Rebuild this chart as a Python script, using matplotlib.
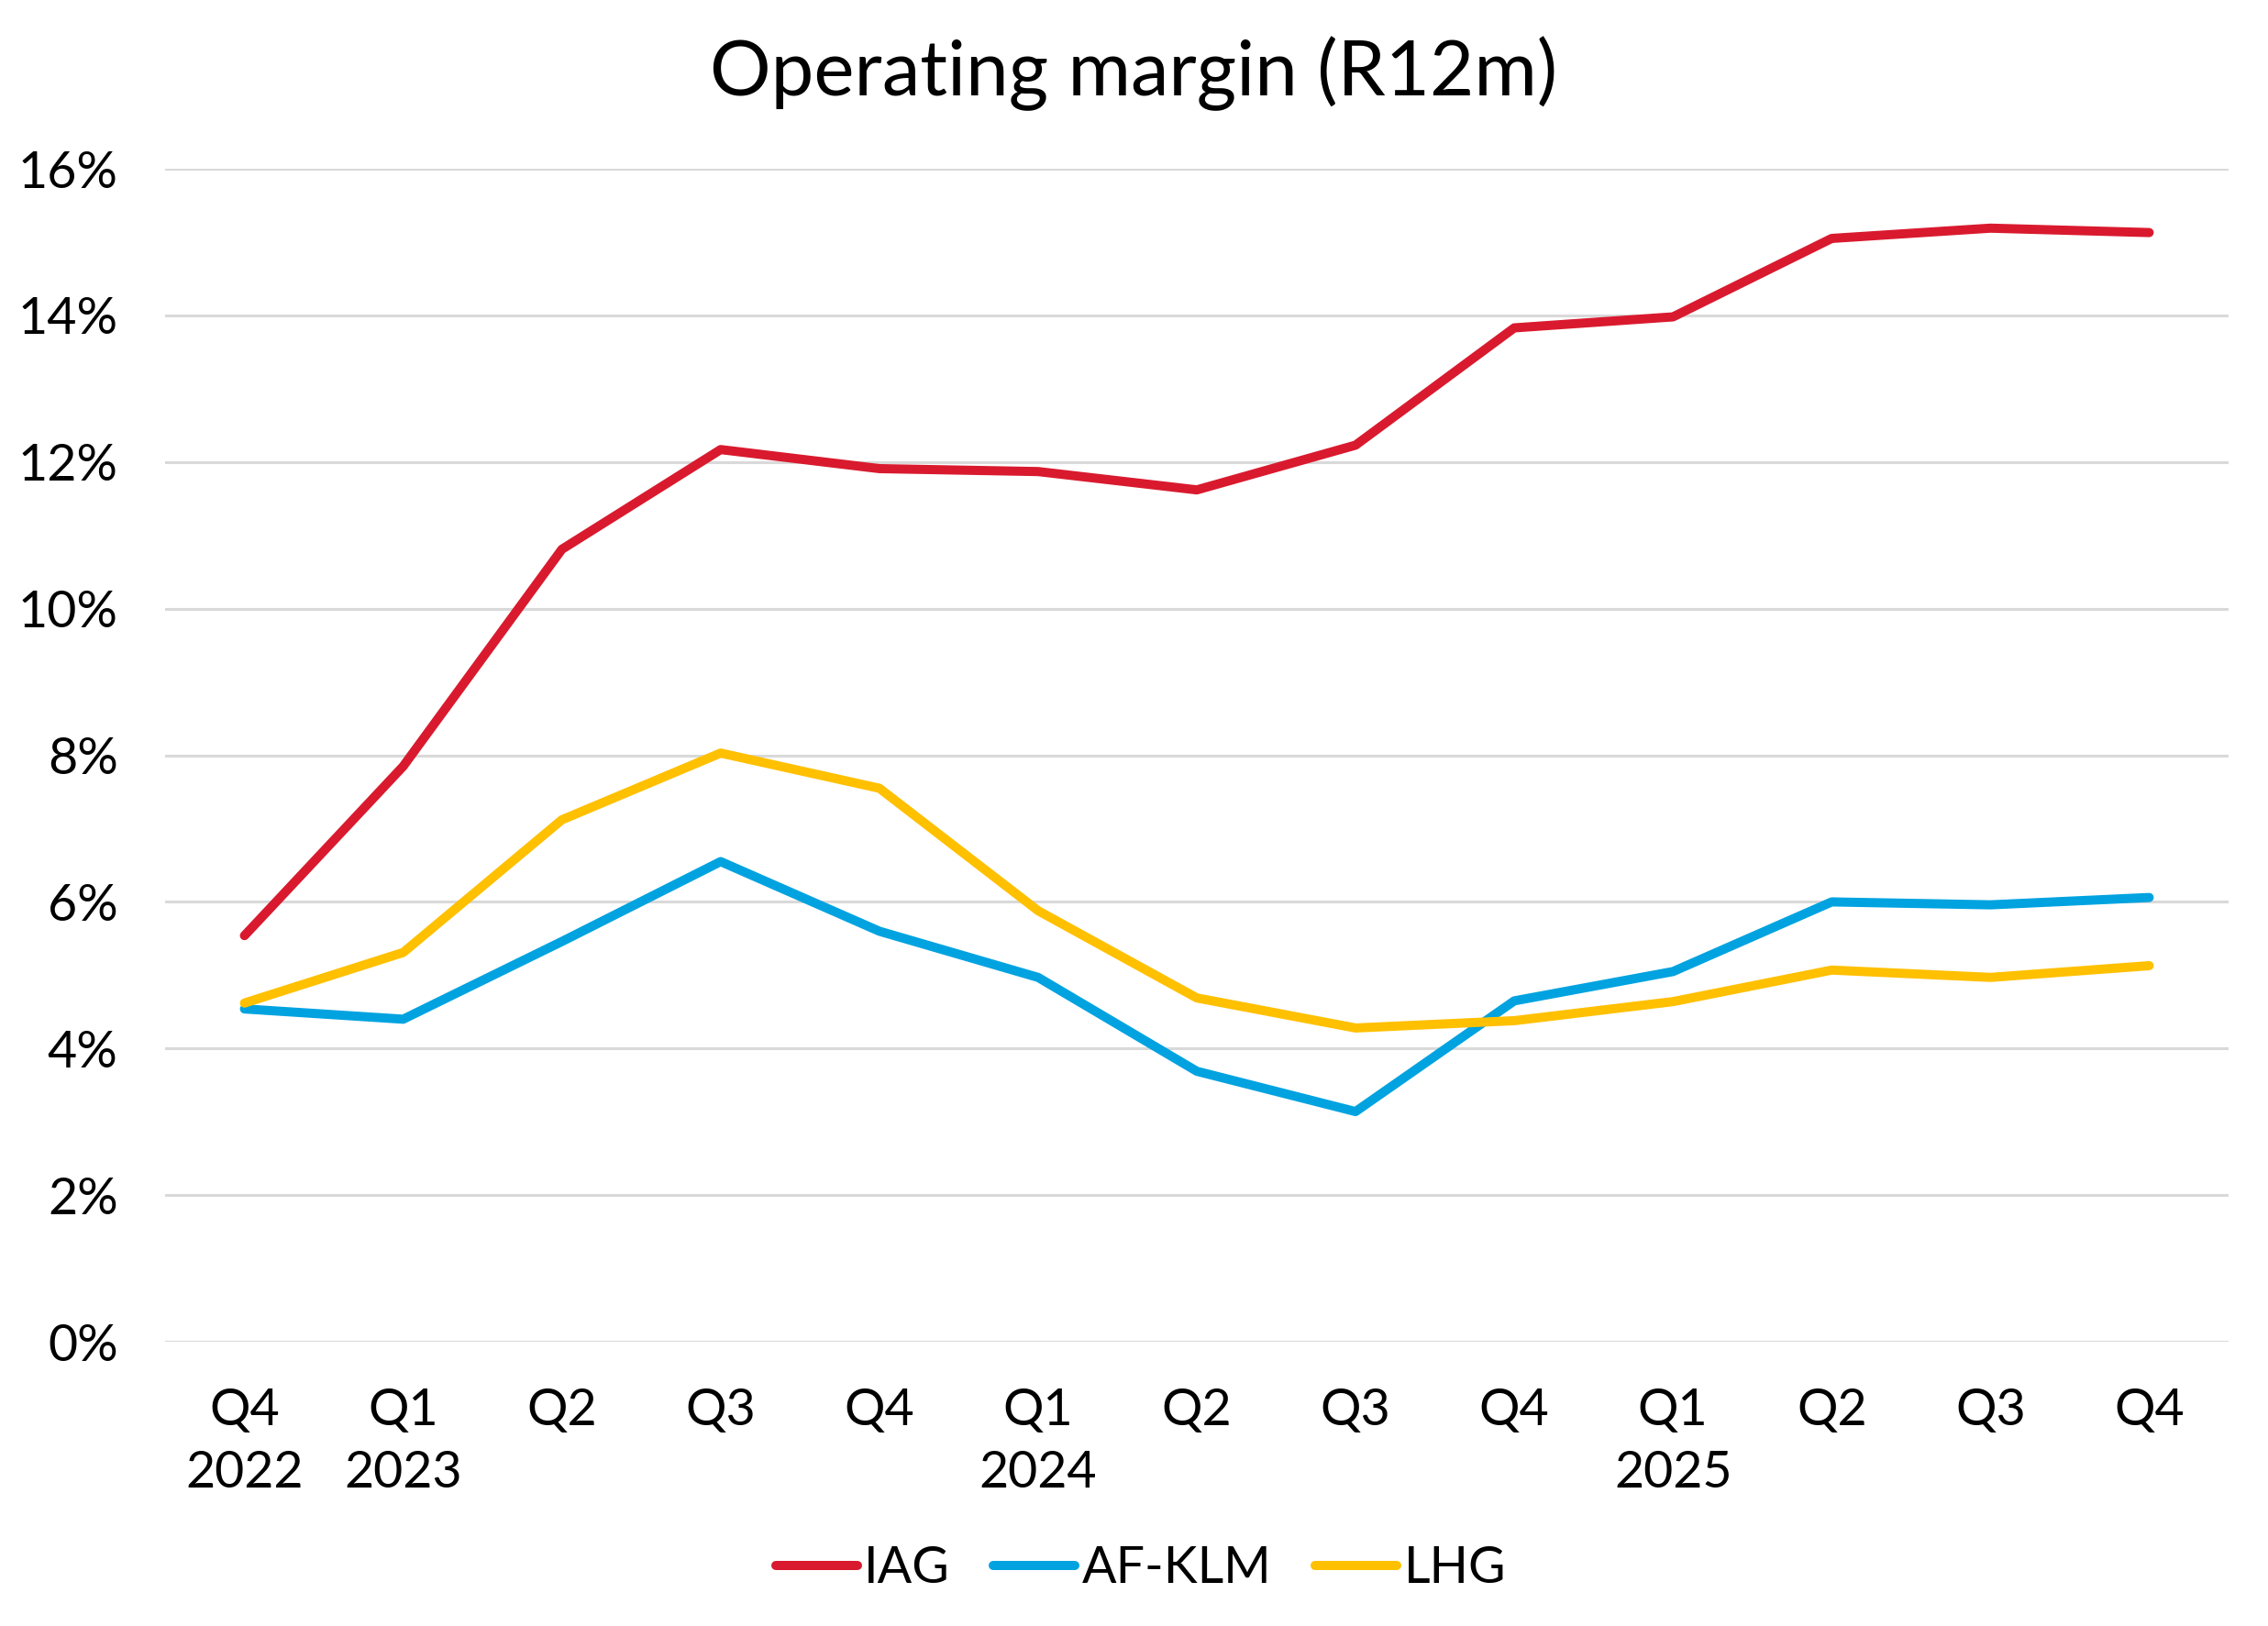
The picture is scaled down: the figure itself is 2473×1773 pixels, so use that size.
import matplotlib
matplotlib.use("Agg")
import matplotlib.pyplot as plt
from matplotlib.ticker import FuncFormatter

plt.rcParams['font.family'] = ['Lato', 'DejaVu Sans']

quarters = ['Q4\n2022', 'Q1\n2023', 'Q2', 'Q3', 'Q4', 'Q1\n2024', 'Q2', 'Q3',
            'Q4', 'Q1\n2025', 'Q2', 'Q3', 'Q4']
iag = [5.54, 7.85, 10.81, 12.17, 11.91, 11.87, 11.62, 12.23, 13.83, 13.98, 15.05, 15.19, 15.13]
afklm = [4.54, 4.40, 5.46, 6.55, 5.60, 4.97, 3.69, 3.14, 4.65, 5.05, 6.00, 5.96, 6.06]
lhg = [4.62, 5.31, 7.12, 8.03, 7.55, 5.88, 4.69, 4.28, 4.38, 4.64, 5.07, 4.97, 5.13]

colors = {'IAG': '#D91A2E', 'AF-KLM': '#00A3E0', 'LHG': '#FFC000'}

fig = plt.figure(figsize=(24.73, 17.73), dpi=100)
ax = fig.add_axes([0.0728, 0.1748, 0.9098, 0.7214])

x = range(len(quarters))
for name, vals in [('IAG', iag), ('AF-KLM', afklm), ('LHG', lhg)]:
    ax.plot(x, vals, color=colors[name], lw=7.2, label=name,
            solid_capstyle='round', solid_joinstyle='round', zorder=3)

ax.set_xlim(-0.5, len(quarters) - 0.5)
ax.set_ylim(0, 16)
ax.set_yticks(range(0, 17, 2))
ax.yaxis.set_major_formatter(FuncFormatter(lambda v, p: f'{v:.0f}%'))
ax.set_xticks(list(x))
ax.set_xticklabels(quarters, linespacing=1.42)
ax.grid(axis='y', color='#D9D9D9', lw=2.2, zorder=0)
for s in ax.spines.values():
    s.set_visible(False)
ax.tick_params(axis='both', length=0, labelsize=40, colors='black')
ax.tick_params(axis='x', pad=36)
ax.tick_params(axis='y', pad=37)

fig.suptitle('Operating margin (R12m)', fontsize=60, y=0.978, va='top')

leg = fig.legend(loc='center', bbox_to_anchor=(0.503, 0.035), ncol=3, frameon=False,
                 fontsize=40, handlelength=1.6, handletextpad=0.14, columnspacing=0.85)

fig.savefig('out.png', dpi=100, facecolor='white')
